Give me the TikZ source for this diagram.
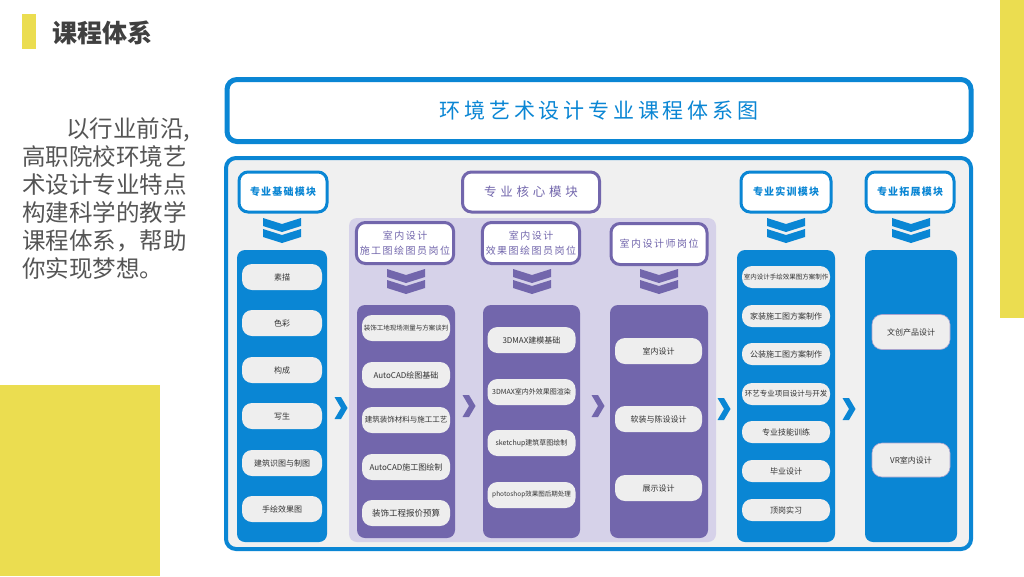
\documentclass[tikz,border=0pt]{standalone}
\usepackage{fontspec}
\setmainfont{Noto Sans CJK SC}
\usepackage{tikz}
\usepackage{xcolor}
\definecolor{kcblue}{RGB}{10,134,212}
\definecolor{kcpurple}{RGB}{114,102,172}
\definecolor{kclav}{RGB}{214,210,233}
\definecolor{kcgray}{RGB}{240,240,240}
\definecolor{kcitem}{RGB}{238,238,238}
\definecolor{kcyellow}{RGB}{235,221,80}
\definecolor{kctext}{RGB}{85,85,85}
\newcommand{\kcfs}[1]{\fontsize{#1}{#1}\selectfont}
\newcommand{\kcsp}[1]{\addfontfeature{LetterSpace=#1}}
% double chevron pointing down, top centre at #1
\newcommand{\dchev}[2]{\fill[#2,shift={#1}] (-19,0) -- (0,6) -- (19,0) -- (19,8) -- (0,14) -- (-19,8) -- cycle
  (-19,11) -- (0,17) -- (19,11) -- (19,19) -- (0,25) -- (-19,19) -- cycle;}
% chevron pointing right, centre at #1
\newcommand{\rchev}[2]{\fill[#2,shift={#1}] (-6.5,-11) -- (0,-11) -- (6.5,0) -- (0,11) -- (-6.5,11) -- (0,0) -- cycle;}

\tikzset{
  modhead/.style={draw=kcblue,line width=3pt,fill=white,rounded corners=9pt,minimum width=88pt,minimum height=40pt,text=kcblue,font=\kcfs{10}\bfseries\kcsp{12}},
  posthead/.style={draw=kcpurple,line width=3pt,fill=white,rounded corners=9pt,minimum width=96pt,minimum height=41pt,text=kcpurple,font=\fontsize{10}{15}\selectfont\kcsp{15},align=center},
  column/.style={rounded corners=8pt,inner sep=0pt},
  item/.style={fill=kcitem,rounded corners=10pt,minimum height=26pt,inner sep=0pt,text=black!80,font=\kcfs{8}},
}

\begin{document}
\begin{tikzpicture}[x=1pt,y=-1pt]
\useasboundingbox (0,0) rectangle (1024,576);
\fill[white] (0,0) rectangle (1024,576);
% side blocks
\fill[kcyellow] (1000,0) rectangle (1024,318);
\fill[kcyellow] (0,385) rectangle (160,576);
\fill[kcyellow] (22,14) rectangle (36,49);
\node[anchor=west,font=\kcfs{25}\bfseries,text=black!75,inner sep=0pt] (title) at (52,33) {课程体系};
\node[anchor=north west,align=left,font=\fontsize{23.5}{28}\selectfont,text=kctext,inner sep=0pt] (intro) at (22,117)
  {\hspace{44pt}以行业前沿,\\高职院校环境艺\\术设计专业特点\\构建科学的教学\\课程体系，帮助\\你实现梦想。};

% frames
\node[draw=kcblue,line width=5pt,fill=white,rounded corners=10pt,minimum width=744pt,minimum height=62pt,
  text=kcblue,font=\kcfs{21}\kcsp{18}] (head) at (599,110.5) {环境艺术设计专业课程体系图};
\draw[kcblue,line width=4pt,fill=kcgray,rounded corners=10pt] (226,158) rectangle (971,549);
\fill[kclav,rounded corners=8pt] (349,218) rectangle (716,542);

% module headers
\node[modhead] (jch) at (283,192) {专业基础模块};
\node[modhead,draw=kcpurple,text=kcpurple,minimum width=137pt,font=\kcfs{12.5}\kcsp{30}] (hxh) at (531,192) {专业核心模块};
\node[modhead,minimum width=90pt] (sxh) at (786,192) {专业实训模块};
\node[modhead] (tzh) at (910,192) {专业拓展模块};
\node[posthead] (pah) at (405,243) {室内设计\\施工图绘图员岗位};
\node[posthead] (pbh) at (531,243) {室内设计\\效果图绘图员岗位};
\node[posthead] (pch) at (659,244) {室内设计师岗位};

\dchev{(282,218)}{kcblue}
\dchev{(406,269)}{kcpurple}
\dchev{(532,269)}{kcpurple}
\dchev{(659,269)}{kcpurple}
\dchev{(786,218)}{kcblue}
\dchev{(911,218)}{kcblue}

% columns
\node[column,fill=kcblue,minimum width=90pt,minimum height=292pt] (jc) at (282,396) {};
\node[column,fill=kcpurple,minimum width=98pt,minimum height=233pt] (pa) at (406,421.5) {};
\node[column,fill=kcpurple,minimum width=97pt,minimum height=233pt] (pb) at (531.5,421.5) {};
\node[column,fill=kcpurple,minimum width=98pt,minimum height=233pt] (pc) at (659,421.5) {};
\node[column,fill=kcblue,minimum width=98pt,minimum height=292pt] (sx) at (786,396) {};
\node[column,fill=kcblue,minimum width=92pt,minimum height=292pt] (tz) at (911,396) {};

\rchev{(341,408)}{kcblue}
\rchev{(469,406)}{kcpurple}
\rchev{(598,406)}{kcpurple}
\rchev{(724,409)}{kcblue}
\rchev{(849,409)}{kcblue}

% basic module items
\node[item,minimum width=80pt] (jc1) at (282,277) {素描};
\node[item,minimum width=80pt] (jc2) at (282,323) {色彩};
\node[item,minimum width=80pt] (jc3) at (282,370) {构成};
\node[item,minimum width=80pt] (jc4) at (282,416) {写生};
\node[item,minimum width=80pt] (jc5) at (282,463) {建筑识图与制图};
\node[item,minimum width=80pt] (jc6) at (282,509) {手绘效果图};

% post A items
\node[item,minimum width=88pt,font=\kcfs{6.5}] (pa1) at (406,328) {装饰工地现场测量与方案谈判};
\node[item,minimum width=88pt] (pa2) at (406,375) {AutoCAD绘图基础};
\node[item,minimum width=88pt,font=\kcfs{7.5}] (pa3) at (406,420) {建筑装饰材料与施工工艺};
\node[item,minimum width=88pt] (pa4) at (406,467) {AutoCAD施工图绘制};
\node[item,minimum width=88pt,font=\kcfs{8.5}] (pa5) at (406,513) {装饰工程报价预算};

% post B items
\node[item,minimum width=88pt] (pb1) at (531.5,340) {3DMAX建模基础};
\node[item,minimum width=88pt,font=\kcfs{7}] (pb2) at (531.5,392) {3DMAX室内外效果图渲染};
\node[item,minimum width=88pt,font=\kcfs{7}] (pb3) at (531.5,443) {sketchup建筑草图绘制};
\node[item,minimum width=88pt,font=\kcfs{6.5}] (pb4) at (531.5,495) {photoshop效果图后期处理};

% post C items
\node[item,minimum width=87pt] (pc1) at (658.5,351) {室内设计};
\node[item,minimum width=87pt] (pc2) at (658.5,419) {软装与陈设设计};
\node[item,minimum width=87pt] (pc3) at (658.5,488) {展示设计};

% training items
\node[item,minimum width=88pt,minimum height=22pt,font=\kcfs{6.5}] (sx1) at (786,277) {室内设计手绘效果图方案制作};
\node[item,minimum width=88pt,minimum height=22pt] (sx2) at (786,316) {家装施工图方案制作};
\node[item,minimum width=88pt,minimum height=22pt] (sx3) at (786,354) {公装施工图方案制作};
\node[item,minimum width=88pt,minimum height=22pt,font=\kcfs{7.5}] (sx4) at (786,394) {环艺专业项目设计与开发};
\node[item,minimum width=88pt,minimum height=22pt] (sx5) at (786,432) {专业技能训练};
\node[item,minimum width=88pt,minimum height=22pt] (sx6) at (786,471) {毕业设计};
\node[item,minimum width=88pt,minimum height=22pt] (sx7) at (786,510) {顶岗实习};

% extension items
\node[item,draw=kcpurple!60,line width=0.6pt,minimum width=78pt,minimum height=35pt] (tz1) at (911,332) {文创产品设计};
\node[item,draw=kcpurple!60,line width=0.6pt,minimum width=78pt,minimum height=34pt] (tz2) at (911,460) {VR室内设计};
\end{tikzpicture}
\end{document}
